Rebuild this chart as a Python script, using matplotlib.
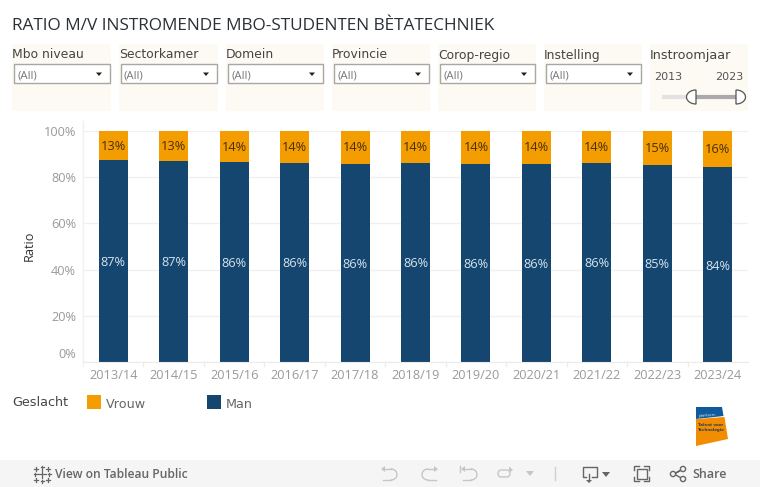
import numpy as np
import matplotlib
matplotlib.use("Agg")
import matplotlib.pyplot as plt
from matplotlib.patches import Rectangle, Polygon, Circle, FancyBboxPatch

W, H = 760, 487

# Data
years = ['2013/14', '2014/15', '2015/16', '2016/17', '2017/18', '2018/19',
         '2019/20', '2020/21', '2021/22', '2022/23', '2023/24']
man = [87.4, 87.0, 86.5, 86.2, 85.9, 86.1, 85.9, 85.9, 86.1, 85.3, 84.3]
man_labels = ['87%', '87%', '86%', '86%', '86%', '86%', '86%', '86%', '86%', '85%', '84%']
vrouw_labels = ['13%', '13%', '14%', '14%', '14%', '14%', '14%', '14%', '14%', '15%', '16%']
y_ticks = [0, 20, 40, 60, 80, 100]
filter_names = ['Mbo niveau', 'Sectorkamer', 'Domein', 'Provincie', 'Corop-regio', 'Instelling']
filter_x = [(12, 111), (119, 218), (226, 324), (332, 430), (438, 536), (544, 642)]

NAVY = '#14466f'
ORANGE = '#f49d00'
PANEL = '#fdf9f3'
GREY = '#9a9a9a'

fig = plt.figure(figsize=(W / 100, H / 100), dpi=100, facecolor='white')

# pixel overlay for everything around the chart
bg = fig.add_axes([0, 0, 1, 1], zorder=0)
bg.set_xlim(0, W)
bg.set_ylim(H, 0)
bg.axis('off')

# chart area
left, right, top, bottom = 83, 748, 131, 362
ax = fig.add_axes([left / W, 1 - bottom / H, (right - left) / W, (bottom - top) / H], zorder=1)
ax.patch.set_alpha(0)
x = np.arange(len(years))
vrouw = [100 - m for m in man]
ax.bar(x, man, width=0.48, color=NAVY, zorder=2)
ax.bar(x, vrouw, width=0.48, bottom=man, color=ORANGE, zorder=2)
ax.set_xlim(-0.5, len(years) - 0.5)
ax.set_ylim(0, 100)
ax.set_yticks(y_ticks)
ax.set_yticklabels([])
ax.set_xticks(x)
ax.set_xticklabels(years, fontsize=9.2, family='Open Sans', color=GREY)
ax.tick_params(axis='x', length=0, pad=5)
ax.tick_params(axis='y', length=0)
ax.grid(axis='y', color='#f0f0f0', lw=1, zorder=0)
ax.set_axisbelow(True)
for s in ['top', 'right', 'left']:
    ax.spines[s].set_visible(False)
ax.spines['bottom'].set_color('#ececec')

# axis line runs a bit above the 100% gridline
bg.plot([left, left], [121, 366], color='#f0f0f0', lw=1)

# y tick labels, Tableau shifts the bottom one up
for t in y_ticks:
    dy = -9 if t == 0 else 0
    bg.text(76, bottom - t * (bottom - top) / 100 + dy + 1.5, f'{t}%', ha='right', va='center',
            fontsize=9.2, family='Open Sans', color=GREY)
# small ticks between the categories
for i in range(1, len(years)):
    xp = left + i * (right - left) / len(years)
    bg.plot([xp, xp], [362, 366], color='#ececec', lw=1)

for i in x:
    ax.text(i, man[i] / 2 - 0.6, man_labels[i], ha='center', va='center', color='#d5e3ee',
            fontsize=9.2, family='Open Sans', zorder=3)
    ax.text(i, man[i] + (100 - man[i]) / 2 - 0.3, vrouw_labels[i], ha='center', va='center',
            color='#4a2f05', fontsize=9.2, family='Open Sans', zorder=3)

bg.text(29, 246, 'Ratio', rotation=90, ha='center', va='center', fontsize=9.2,
        family='Open Sans', color='#333333')

# title
bg.text(12, 26, 'RATIO M/V INSTROMENDE MBO-STUDENTEN BÈTATECHNIEK', ha='left', va='center',
        fontsize=12.4, family='Open Sans', color='#2b2f36')

# filters
for name, (x0, x1) in zip(filter_names, filter_x):
    bg.add_patch(Rectangle((x0, 44), x1 - x0, 67, fc=PANEL, ec='none'))
    bg.text(x0, 55, name, ha='left', va='center', fontsize=8.9, family='DejaVu Sans', color='#444444')
    bg.add_patch(Rectangle((x0 + 1.5, 64), x1 - x0 - 2.5, 19, fc='white', ec='#a8a8a0', lw=1))
    bg.text(x0 + 5, 75.5, '(All)', ha='left', va='center', fontsize=8.2, family='Open Sans', color='#777777')
    bg.add_patch(Polygon([(x1 - 15, 72.5), (x1 - 9, 72.5), (x1 - 12, 76)], fc='#222222', ec='none'))

# slider filter
bg.add_patch(Rectangle((650, 44), 98, 67, fc=PANEL, ec='none'))
bg.text(650, 55, 'Instroomjaar', ha='left', va='center', fontsize=9.2, family='DejaVu Sans', color='#444444')
bg.text(654, 76.5, '2013', ha='left', va='center', fontsize=8, family='DejaVu Sans', color='#555555')
bg.text(743.5, 76.5, '2023', ha='right', va='center', fontsize=8, family='DejaVu Sans', color='#555555')
bg.plot([662, 692], [97, 97], color='#e2e2e2', lw=3, solid_capstyle='butt')
bg.plot([692, 738], [97, 97], color='#aaaaaa', lw=3, solid_capstyle='butt')
for cx, side in [(696, -1), (736, 1)]:
    th = np.linspace(-np.pi / 2, np.pi / 2, 30)
    px = cx + side * 9.5 * np.cos(th)
    py = 97 + 7 * np.sin(th)
    bg.add_patch(Polygon(np.column_stack([px, py]), closed=True, fc='white', ec='#555555', lw=0.9, zorder=3))

# legend
bg.text(12, 403, 'Geslacht', ha='left', va='center', fontsize=9.2, family='DejaVu Sans', color='#444444')
bg.add_patch(Rectangle((87, 395), 14, 14, fc=ORANGE, ec='none'))
bg.text(106, 404, 'Vrouw', ha='left', va='center', fontsize=9.2, family='DejaVu Sans', color='#666666')
bg.add_patch(Rectangle((207, 395), 14, 14, fc=NAVY, ec='none'))
bg.text(226, 404, 'Man', ha='left', va='center', fontsize=9.2, family='DejaVu Sans', color='#666666')

# logo
bg.add_patch(Polygon([(696, 407), (722, 407), (723.5, 416), (696, 419)], fc='#0f5a9c', ec='none'))
bg.add_patch(Polygon([(696, 419), (724.5, 417), (728, 439), (696, 446)], fc='#f28c00', ec='none'))
bg.text(698, 415, 'platform', fontsize=3, color='#cfe0ee', va='center', rotation=4)
bg.text(698, 425, 'Talent voor', fontsize=2.9, color='#24405c', va='center', weight='bold')
bg.text(698, 430.5, 'Technologie', fontsize=2.9, color='#24405c', va='center', weight='bold')

# toolbar
bg.add_patch(Rectangle((0, 460), W, 27, fc='#f5f5f5', ec='none'))
bg.text(55, 474.5, 'View on Tableau Public', ha='left', va='center', fontsize=8.7,
        family='Open Sans', weight='semibold', color='#666666')
for cx, cy, r in [(42, 474, 4), (36, 469, 2), (48, 469, 2), (36, 480, 2), (48, 480, 2),
                  (42, 467, 1.5), (42, 481, 1.5), (35, 474, 1.5), (49, 474, 1.5)]:
    bg.plot([cx - r, cx + r], [cy, cy], color='#666666', lw=0.9)
    bg.plot([cx, cx], [cy - r, cy + r], color='#666666', lw=0.9)

LIGHT = '#c6c6c6'
def arc_icon(cx, flip):
    th = np.linspace(-np.pi / 2, np.pi / 2, 20)
    px = cx + flip * 6 * np.cos(th)
    py = 474.5 + 5.5 * np.sin(th)
    bg.plot(px, py, color=LIGHT, lw=1)
    bg.plot([cx, cx - flip * 8], [469, 469], color=LIGHT, lw=1)
    bg.plot([cx, cx - flip * 8], [480, 480], color=LIGHT, lw=1)
    tip = cx - flip * 10
    bg.add_patch(Polygon([(tip, 469), (tip + flip * 4, 466), (tip + flip * 4, 472)], fc=LIGHT, ec='none'))
arc_icon(391, 1)
arc_icon(428, -1)
arc_icon(471, 1)
bg.plot([460, 460], [466, 472], color=LIGHT, lw=1)
bg.add_patch(FancyBboxPatch((498, 470), 12, 7, boxstyle='round,pad=0,rounding_size=3.5',
                            fc='none', ec=LIGHT, lw=1))
bg.add_patch(Polygon([(509, 466.5), (509, 473), (513, 470)], fc=LIGHT, ec='none'))
bg.add_patch(Polygon([(526, 471), (534, 471), (530, 476)], fc=LIGHT, ec='none'))
bg.plot([555, 555], [467, 480], color='#d0d0d0', lw=1)

DARK = '#666666'
bg.plot([586, 582.5, 582.5, 596.5, 596.5, 592], [477, 477, 467, 467, 477, 477], color=DARK, lw=1)
bg.plot([589, 589], [474, 481], color=DARK, lw=1)
bg.add_patch(Polygon([(586, 480), (592, 480), (589, 483)], fc=DARK, ec='none'))
bg.add_patch(Polygon([(602, 472), (610, 472), (606, 477)], fc=DARK, ec='none'))
for xs, ys in [([634, 634, 639], [470, 466, 466]), ([644, 649, 649], [466, 466, 470]),
               ([634, 634, 639], [477, 481, 481]), ([644, 649, 649], [481, 481, 477])]:
    bg.plot(xs, ys, color=DARK, lw=1)
bg.add_patch(Rectangle((636.5, 469), 10, 9.5, fc='none', ec=DARK, lw=1))
bg.plot([674, 683, 674, 683], [474, 469, 474, 479], color=DARK, lw=1, zorder=2)
for cx, cy in [(673, 474), (683, 469), (683, 479)]:
    bg.add_patch(Circle((cx, cy), 2.6, fc='#f5f5f5', ec=DARK, lw=1, zorder=3))
bg.text(692, 475, 'Share', ha='left', va='center', fontsize=9, family='Open Sans',
        weight='semibold', color='#666666')

fig.savefig('out.png', dpi=100)
